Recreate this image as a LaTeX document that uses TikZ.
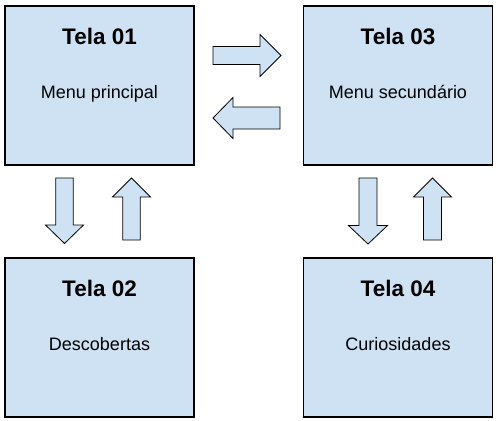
\documentclass[tikz,border=0pt]{standalone}
\usepackage{fontspec}
\setmainfont{Liberation Sans}
\usetikzlibrary{positioning}
\definecolor{telablue}{HTML}{CFE2F3}
\tikzset{
  tela/.style={draw=black, fill=telablue, line width=1.6pt, minimum width=189pt, minimum height=159pt, inner sep=0pt},
  titulo/.style={font=\fontsize{22.5}{26}\selectfont\bfseries, inner sep=0pt, anchor=base},
  sub/.style={font=\fontsize{18}{21}\selectfont, inner sep=0pt, anchor=base},
  seta/.style={draw=black, fill=telablue, line width=0.8pt, line join=miter}
}

\begin{document}
\begin{tikzpicture}[x=1pt, y=-1pt]
  \useasboundingbox (0,0) rectangle (497,420);
  % telas
  \node[tela] (tela1) at (99.5,85.5) {};
  \node[tela] (tela3) at (398,85.5) {};
  \node[tela] (tela2) at (99.5,337.5) {};
  \node[tela] (tela4) at (398,337.5) {};
  \node[titulo] (t1) at ([yshift=-39.5pt]tela1.north) {Tela 01};
  \node[sub] (s1) at ([yshift=-93pt]tela1.north) {Menu principal};
  \node[titulo] (t3) at ([yshift=-39.5pt]tela3.north) {Tela 03};
  \node[sub] (s3) at ([yshift=-93pt]tela3.north) {Menu secundário};
  \node[titulo] (t2) at ([yshift=-39.5pt]tela2.north) {Tela 02};
  \node[sub] (s2) at ([yshift=-93pt]tela2.north) {Descobertas};
  \node[titulo] (t4) at ([yshift=-39.5pt]tela4.north) {Tela 04};
  \node[sub] (s4) at ([yshift=-93pt]tela4.north) {Curiosidades};
  % setas
  \draw[seta, shift={(213,55.5)}] (0,-9) -- (47,-9) -- (47,-21) -- (68,0) -- (47,21) -- (47,9) -- (0,9) -- cycle;
  \draw[seta, shift={(280,118)}, rotate=180] (0,-11) -- (47,-11) -- (47,-20.5) -- (67,0) -- (47,20.5) -- (47,11) -- (0,11) -- cycle;
  \draw[seta, shift={(64.5,178)}, rotate=-90] (0,-8.7) -- (47,-8.7) -- (47,-19) -- (65.5,0) -- (47,19) -- (47,8.7) -- (0,8.7) -- cycle;
  \draw[seta, shift={(131.5,240)}, rotate=90] (0,-8.7) -- (43,-8.7) -- (43,-19) -- (62,0) -- (43,19) -- (43,8.7) -- (0,8.7) -- cycle;
  \draw[seta, shift={(368,178)}, rotate=-90] (0,-9) -- (47.5,-9) -- (47.5,-19.5) -- (66,0) -- (47.5,19.5) -- (47.5,9) -- (0,9) -- cycle;
  \draw[seta, shift={(432.5,240)}, rotate=90] (0,-9) -- (43,-9) -- (43,-19) -- (62,0) -- (43,19) -- (43,9) -- (0,9) -- cycle;
\end{tikzpicture}
\end{document}
